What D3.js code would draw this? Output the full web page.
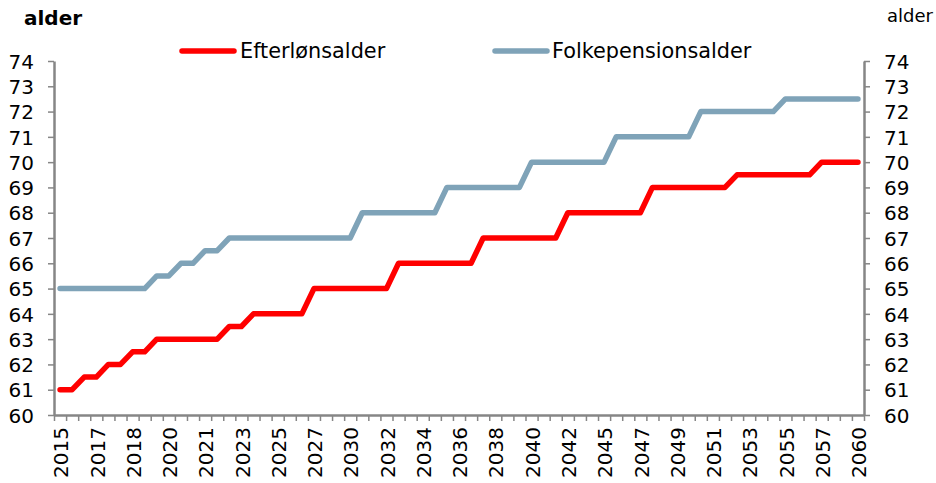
<!DOCTYPE html>
<html><head><meta charset="utf-8">
<script src="https://cdn.jsdelivr.net/npm/d3@7"></script>
<style>body{margin:0;background:#fff}svg{display:block}text{font-family:"DejaVu Sans",Verdana,sans-serif;fill:#000}</style>
</head><body><svg id="c" width="936" height="483"></svg>
<script>
// Category years (years repeated where a step occurs), labelled every 3rd
const years = [2015,2016,2016,2017,2017,2018,2018,2019,2019,2020,2020,2021,2021,2022,2022,2023,2023,2024,2025,2026,2027,2027,2028,2029,2030,2030,2031,2032,2032,2033,2034,2035,2035,2036,2037,2037,2038,2039,2040,2040,2041,2042,2042,2043,2044,2045,2045,2046,2047,2047,2048,2049,2050,2050,2051,2052,2052,2053,2054,2055,2055,2056,2057,2057,2058,2059,2060];
const efterloen = [61,61,61.5,61.5,62,62,62.5,62.5,63,63,63,63,63,63,63.5,63.5,64,64,64,64,64,65,65,65,65,65,65,65,66,66,66,66,66,66,66,67,67,67,67,67,67,67,68,68,68,68,68,68,68,69,69,69,69,69,69,69,69.5,69.5,69.5,69.5,69.5,69.5,69.5,70,70,70,70];
const folkepension = [65,65,65,65,65,65,65,65,65.5,65.5,66,66,66.5,66.5,67,67,67,67,67,67,67,67,67,67,67,68,68,68,68,68,68,68,69,69,69,69,69,69,69,70,70,70,70,70,70,70,71,71,71,71,71,71,71,72,72,72,72,72,72,72,72.5,72.5,72.5,72.5,72.5,72.5,72.5];
const seriesNames = ["Efterlønsalder","Folkepensionsalder"];
const yTicks = d3.range(60,75,1);
const labelEvery = 3;

const svg = d3.select("#c");
const L=54, R=864, T=61, B=415;
const axisCol="#868686";
const colors=["#ff0000","#7fa3b8"];
const fs="20px";

const x = d3.scaleBand().domain(d3.range(years.length)).range([L,R]).padding(0);
const xEdge = d3.scaleLinear().domain([0,years.length]).range([L,R]);
const y = d3.scaleLinear().domain([60,74]).range([B,T]);
const cx = i => x(i)+x.bandwidth()/2;

// lines
const line = d3.line().x((d,i)=>cx(i)).y(d=>y(d));
[efterloen, folkepension].forEach((s,k)=>{
  svg.append("path").attr("d",line(s)).attr("fill","none").attr("stroke",colors[k])
    .attr("stroke-width",5.5).attr("stroke-linejoin","round").attr("stroke-linecap","round");
});

function styleAxis(g){
  g.selectAll(".domain").attr("stroke",axisCol).attr("stroke-width",2.5);
  g.selectAll(".tick line").attr("stroke",axisCol).attr("stroke-width",1.5);
  g.selectAll("text").style("font-family","'DejaVu Sans',Verdana,sans-serif").style("font-size",fs).attr("fill","#000");
}
// left axis
const gl = svg.append("g").attr("transform",`translate(${L},0)`)
  .call(d3.axisLeft(y).tickValues(yTicks).tickSize(6).tickSizeOuter(0).tickPadding(14).tickFormat(d3.format("d")));
styleAxis(gl);
gl.selectAll("text").attr("dy","0.36em");
// right axis
const gr = svg.append("g").attr("transform",`translate(${R},0)`)
  .call(d3.axisRight(y).tickValues(yTicks).tickSize(6).tickSizeOuter(0).tickPadding(14).tickFormat(d3.format("d")));
styleAxis(gr);
gr.selectAll("text").attr("dy","0.36em");
// bottom axis (ticks between categories)
const gb = svg.append("g").attr("transform",`translate(0,${B})`)
  .call(d3.axisBottom(xEdge).tickValues(d3.range(years.length+1)).tickSize(6).tickSizeOuter(0).tickFormat(""));
styleAxis(gb);
// category labels
svg.append("g").selectAll("text").data(years.map((yr,i)=>({yr,i})).filter(d=>d.i%labelEvery===0))
  .join("text")
  .attr("transform",d=>`translate(${cx(d.i)+1},${B+12}) rotate(-90)`)
  .attr("text-anchor","end").attr("dy","0.36em")
  .style("font-size",fs).text(d=>d.yr);

// axis titles
svg.append("text").attr("x",24).attr("y",25).style("font-weight","bold").style("font-size",fs).text("alder");
svg.append("text").attr("x",887).attr("y",22).style("font-size","18px").text("alder");

// legend
const leg = [{x1:182,x2:234,tx:240},{x1:495,x2:547,tx:552}];
leg.forEach((p,k)=>{
  svg.append("line").attr("x1",p.x1).attr("x2",p.x2).attr("y1",51).attr("y2",51)
    .attr("stroke",colors[k]).attr("stroke-width",5.5).attr("stroke-linecap","round");
  svg.append("text").attr("x",p.tx).attr("y",51).attr("dy","0.36em").style("font-size","20.8px").text(seriesNames[k]);
});
</script></body></html>
